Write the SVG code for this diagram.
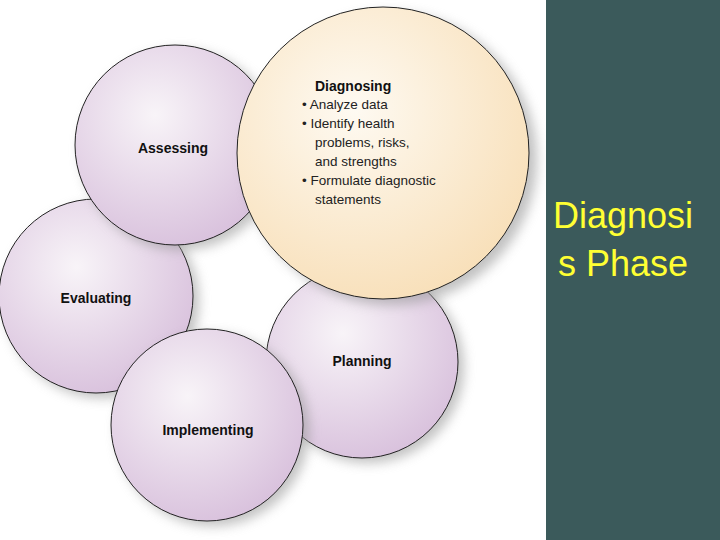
<svg xmlns="http://www.w3.org/2000/svg" width="720" height="540" viewBox="0 0 720 540">
<defs>
<radialGradient id="pur" cx="0.4" cy="0.35" r="0.7"><stop offset="0" stop-color="#f8f4f8"/><stop offset="1" stop-color="#d8c0dc"/></radialGradient>
<radialGradient id="yel" cx="0.4" cy="0.35" r="0.7"><stop offset="0" stop-color="#fefaf2"/><stop offset="1" stop-color="#f8dfb8"/></radialGradient>
<filter id="sh" x="-20%" y="-20%" width="150%" height="150%"><feGaussianBlur stdDeviation="6"/></filter>
<style>
.c{stroke:#222;stroke-width:1}
.s{fill:#999;opacity:0.6;filter:url(#sh)}
.l{font-family:"Liberation Sans",Arial,sans-serif;font-weight:bold;font-size:14px;fill:#111;text-anchor:middle}
.t{font-family:"Liberation Sans",Arial,sans-serif;font-size:13.5px;fill:#222}
</style>
</defs>
<rect width="720" height="540" fill="#fff"/>
<g id="planning"><circle class="s" cx="368" cy="367" r="96"/><circle class="c" cx="362" cy="362" r="96" fill="url(#pur)"/><text class="l" x="362" y="366">Planning</text></g>
<g id="evaluating"><circle class="s" cx="102" cy="301" r="97"/><circle class="c" cx="96" cy="296" r="97" fill="url(#pur)"/><text class="l" x="96" y="303">Evaluating</text></g>
<g id="implementing"><circle class="s" cx="213" cy="430" r="96"/><circle class="c" cx="207" cy="425" r="96" fill="url(#pur)"/><text class="l" x="208" y="435">Implementing</text></g>
<g id="assessing"><circle class="s" cx="181" cy="150" r="100"/><circle class="c" cx="175" cy="145" r="100" fill="url(#pur)"/><text class="l" x="173" y="153">Assessing</text></g>
<g id="diagnosing"><circle class="s" cx="391" cy="159" r="146"/><circle class="c" cx="383" cy="153" r="146" fill="url(#yel)"/>
<text class="l" x="315" y="91" style="text-anchor:start">Diagnosing</text>
<text class="t" x="302" y="109">• Analyze data</text>
<text class="t" x="302" y="128">• Identify health</text>
<text class="t" x="315" y="147">problems, risks,</text>
<text class="t" x="315" y="166">and strengths</text>
<text class="t" x="302" y="185">• Formulate diagnostic</text>
<text class="t" x="315" y="204">statements</text></g>
<g id="connectors"/>
<rect x="546" y="0" width="174" height="540" fill="#3b5a5b"/>
<text x="553" y="228" font-family="Liberation Sans,Arial,sans-serif" font-size="36" fill="#ffff33">Diagnosi</text>
<text x="558" y="276" font-family="Liberation Sans,Arial,sans-serif" font-size="36" fill="#ffff33">s Phase</text>
</svg>
